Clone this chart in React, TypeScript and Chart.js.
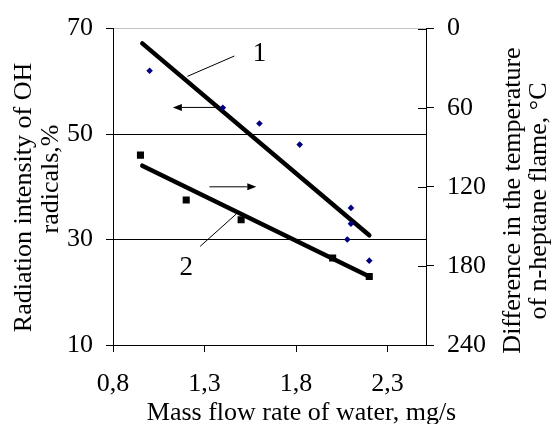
import { useEffect, useRef } from 'react';
import { Chart, registerables } from 'chart.js';

Chart.register(...registerables);

// ---- data ----
const X_TICKS = [0.8, 1.3, 1.8, 2.3];
const LEFT_TICKS = [10, 30, 50, 70];
const RIGHT_TICKS = [0, 60, 120, 180, 240];

// Curve 1: radiation intensity of OH radicals, % (left axis)
const OH_X = [1.0, 1.4, 1.6, 1.82, 2.1, 2.1, 2.08, 2.2];
const OH_Y = [62, 55, 52, 48, 36, 33, 30, 26];
// Curve 2: difference in flame temperature, °C (right axis, reversed)
const DT_X = [0.95, 1.2, 1.5, 2.0, 2.2];
const DT_Y = [96, 130, 145, 174, 188];
// Trend lines
const FIT_OH_X = [0.96, 2.2];
const FIT_OH_Y = [67.2, 30.8];
const FIT_DT_X = [0.96, 2.2];
const FIT_DT_Y = [104, 188];

const X_TITLE = 'Mass flow rate of water, mg/s';
const LEFT_TITLE = ['Radiation intensity of OH', 'radicals,%'];
const RIGHT_TITLE = ['Difference in the temperature', 'of n-heptane flame, °C'];

// Curve annotations (in x / left-axis units)
const CURVE_LABELS = ['1', '2'];
const LABEL_X = [1.6, 1.2];
const LABEL_Y = [65.2, 24.7];
const LEADER_X = [[1.463, 1.207], [1.276, 1.472]];
const LEADER_Y = [[64.8, 60.95], [28.7, 34.8]];
const ARROW_X = [[1.373, 1.127], [1.327, 1.583]];
const ARROW_Y = [[55.05, 55.05], [40, 40]];

const FONT_FAMILY = '"Liberation Serif", "Times New Roman", serif';
const fmt = (v: number) => v.toFixed(1).replace('.', ',');

const decorPlugin = {
  id: 'decor',
  afterDraw(chart: any) {
    const { ctx, chartArea } = chart;
    const xs = chart.scales.x;
    const ys = chart.scales.y;
    const y2 = chart.scales.y2;
    ctx.save();
    // inner halves of right-axis ticks
    ctx.strokeStyle = '#000';
    ctx.lineWidth = 1;
    RIGHT_TICKS.forEach((v) => {
      const py = Math.round(y2.getPixelForValue(v)) + 0.5;
      ctx.beginPath();
      ctx.moveTo(chartArea.right - 8, py);
      ctx.lineTo(chartArea.right, py);
      ctx.stroke();
    });
    // leaders and arrows
    for (let i = 0; i < CURVE_LABELS.length; i++) {
      ctx.beginPath();
      ctx.moveTo(xs.getPixelForValue(LEADER_X[i][0]), ys.getPixelForValue(LEADER_Y[i][0]));
      ctx.lineTo(xs.getPixelForValue(LEADER_X[i][1]), ys.getPixelForValue(LEADER_Y[i][1]));
      ctx.stroke();
      const ax0 = xs.getPixelForValue(ARROW_X[i][0]);
      const ay0 = ys.getPixelForValue(ARROW_Y[i][0]);
      const ax1 = xs.getPixelForValue(ARROW_X[i][1]);
      const ay1 = ys.getPixelForValue(ARROW_Y[i][1]);
      const ang = Math.atan2(ay1 - ay0, ax1 - ax0);
      const hl = 9, hw = 3.5;
      const bx = ax1 - hl * Math.cos(ang);
      const by = ay1 - hl * Math.sin(ang);
      ctx.beginPath();
      ctx.moveTo(ax0, ay0);
      ctx.lineTo(bx, by);
      ctx.stroke();
      ctx.beginPath();
      ctx.moveTo(ax1, ay1);
      ctx.lineTo(bx + hw * Math.sin(ang), by - hw * Math.cos(ang));
      ctx.lineTo(bx - hw * Math.sin(ang), by + hw * Math.cos(ang));
      ctx.closePath();
      ctx.fillStyle = '#000';
      ctx.fill();
      ctx.font = `27px ${FONT_FAMILY}`;
      ctx.textAlign = 'center';
      ctx.textBaseline = 'middle';
      ctx.fillText(CURVE_LABELS[i], xs.getPixelForValue(LABEL_X[i]), ys.getPixelForValue(LABEL_Y[i]));
    }
    // axis titles
    ctx.fillStyle = '#000';
    ctx.font = `26px ${FONT_FAMILY}`;
    ctx.textAlign = 'center';
    ctx.textBaseline = 'alphabetic';
    ctx.fillText(X_TITLE, 301.5, 420);
    const vert = (text: string, bx: number, cy: number) => {
      ctx.save();
      ctx.translate(bx, cy);
      ctx.rotate(-Math.PI / 2);
      ctx.fillText(text, 0, 0);
      ctx.restore();
    };
    vert(LEFT_TITLE[0], 31, 197.5);
    vert(LEFT_TITLE[1], 58, 179);
    vert(RIGHT_TITLE[0], 520, 200.5);
    vert(RIGHT_TITLE[1], 546, 201);
    ctx.restore();
  },
};

export default function App() {
  const ref = useRef<HTMLCanvasElement | null>(null);
  useEffect(() => {
    if (!ref.current) return;
    const tickFont = { family: FONT_FAMILY, size: 26 };
    const chart = new Chart(ref.current, {
      type: 'scatter',
      data: {
        datasets: [
          {
            label: 'OH radicals',
            data: OH_X.map((x, i) => ({ x, y: OH_Y[i] })),
            yAxisID: 'y',
            pointStyle: 'rectRot',
            pointRadius: 3.3,
            pointBackgroundColor: '#000080',
            pointBorderWidth: 0,
            showLine: false,
          },
          {
            label: 'Temperature difference',
            data: DT_X.map((x, i) => ({ x, y: DT_Y[i] })),
            yAxisID: 'y2',
            pointStyle: 'rect',
            pointRadius: 5,
            pointBackgroundColor: '#000',
            pointBorderWidth: 0,
            showLine: false,
          },
          {
            label: 'Trend 1',
            data: FIT_OH_X.map((x, i) => ({ x, y: FIT_OH_Y[i] })),
            yAxisID: 'y',
            showLine: true,
            borderColor: '#000',
            borderWidth: 4.5,
            borderCapStyle: 'round',
            pointRadius: 0,
          },
          {
            label: 'Trend 2',
            data: FIT_DT_X.map((x, i) => ({ x, y: FIT_DT_Y[i] })),
            yAxisID: 'y2',
            showLine: true,
            borderColor: '#000',
            borderWidth: 4.5,
            borderCapStyle: 'round',
            pointRadius: 0,
          },
        ],
      },
      options: {
        animation: false,
        responsive: true,
        maintainAspectRatio: false,
        events: [],
        layout: { padding: { top: 24, left: 0, right: 0, bottom: 0 } },
        plugins: { legend: { display: false }, tooltip: { enabled: false } },
        scales: {
          x: {
            type: 'linear',
            position: 'bottom',
            min: 0.8,
            max: 2.51,
            afterBuildTicks: (s: any) => { s.ticks = X_TICKS.map((v) => ({ value: v })); },
            afterFit: (s: any) => { s.height = 79; },
            ticks: { font: tickFont, color: '#000', padding: 17, maxRotation: 0, autoSkip: false, callback: (v: any) => fmt(Number(v)) },
            grid: { drawOnChartArea: false, tickLength: 7, color: '#000', tickColor: '#000' },
            border: { color: '#000', width: 1 },
          },
          y: {
            type: 'linear',
            position: 'left',
            min: 10,
            max: 70,
            afterBuildTicks: (s: any) => { s.ticks = LEFT_TICKS.map((v) => ({ value: v })); },
            afterFit: (s: any) => { s.width = 113; },
            ticks: { font: tickFont, color: '#000', padding: 13 },
            grid: {
              color: (c: any) => (c.tick && c.tick.value === 70 ? '#c4c4c4' : '#000'),
              tickColor: '#000',
              tickLength: 7,
              lineWidth: 1,
            },
            border: { color: '#000', width: 1 },
          },
          y2: {
            type: 'linear',
            position: 'right',
            min: 0,
            max: 240,
            reverse: true,
            afterBuildTicks: (s: any) => { s.ticks = RIGHT_TICKS.map((v) => ({ value: v })); },
            afterFit: (s: any) => { s.width = 128; },
            ticks: { font: tickFont, color: '#000', padding: 13 },
            grid: { drawOnChartArea: false, tickLength: 8, color: '#000', tickColor: '#000' },
            border: { color: '#000', width: 1 },
          },
        },
      } as any,
      plugins: [decorPlugin],
    });
    return () => chart.destroy();
  }, []);
  return (
    <div style={{ position: 'fixed', left: 0, top: 0, width: 554, height: 424, background: '#fff' }}>
      <canvas ref={ref} />
    </div>
  );
}
